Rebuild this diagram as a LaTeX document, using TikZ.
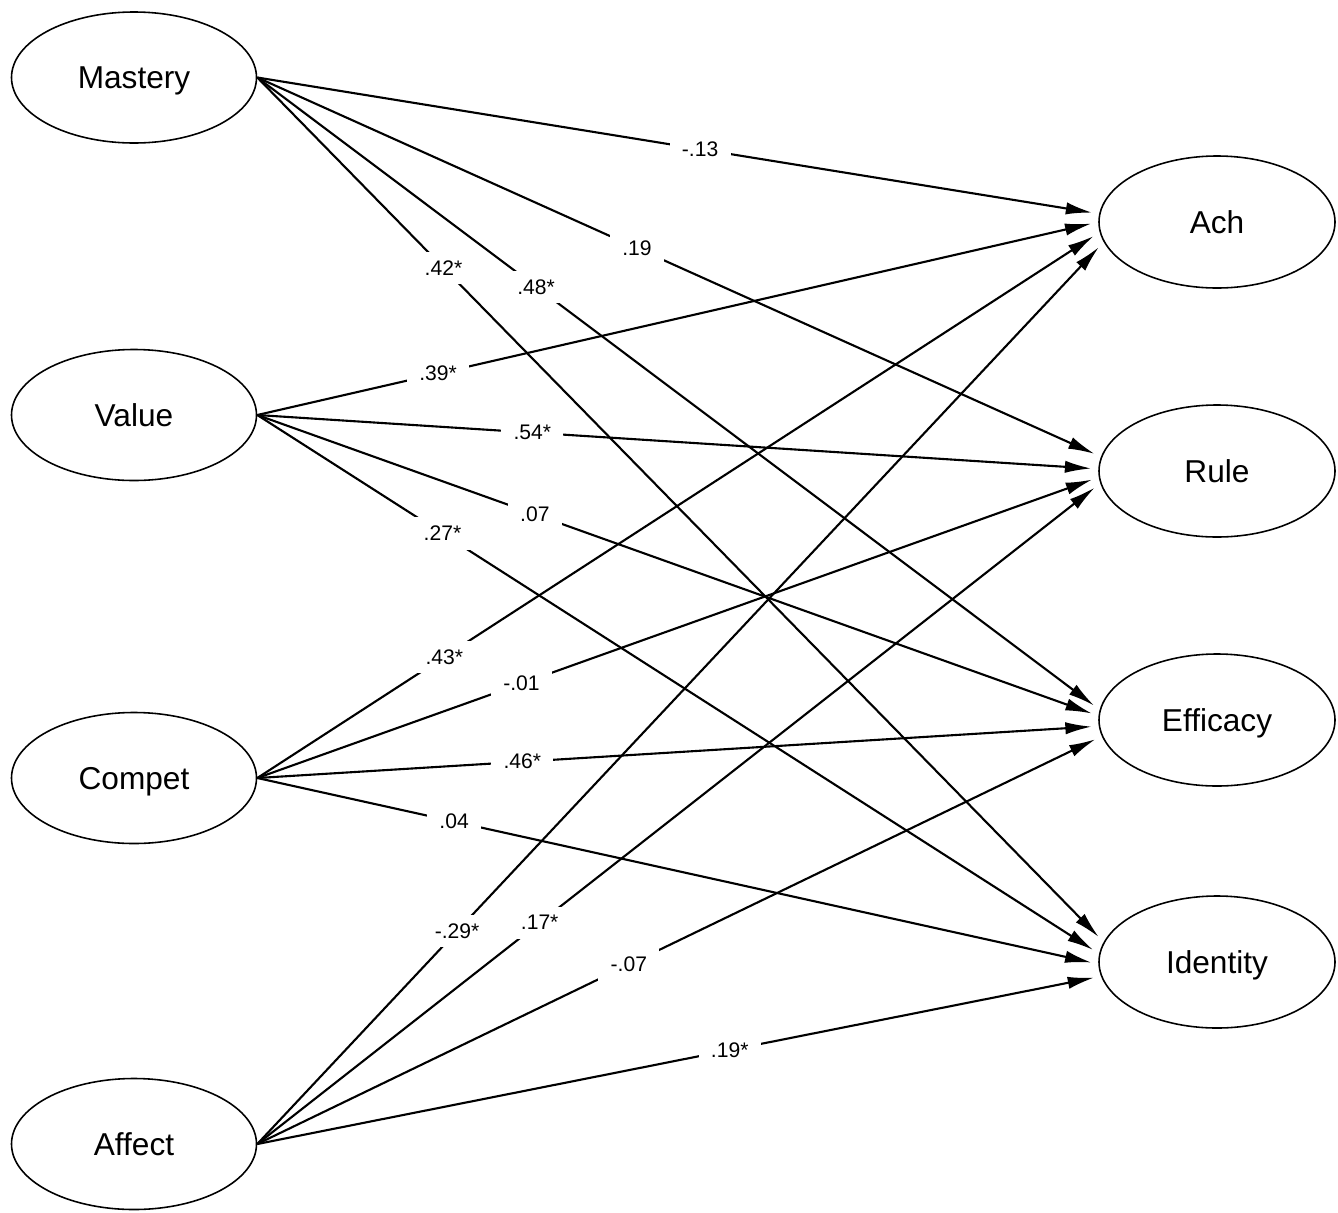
\documentclass[tikz,border=0pt]{standalone}
\usepackage{fontspec}
\setmainfont{Liberation Sans}
\usetikzlibrary{shapes.geometric,arrows.meta}

\begin{document}
\begin{tikzpicture}[
  latent/.style={draw, ellipse, line width=0.9pt, inner sep=0pt,
    text height=12.9pt, text depth=0pt, font=\fontsize{18}{20}\selectfont},
  effect/.style={line width=1.2pt, -{Latex[length=15pt,width=7pt]}, shorten >=4pt},
  wt/.style={fill=white, inner xsep=7pt, inner ysep=5pt,
    font=\fontsize{12}{14}\selectfont}
]
\useasboundingbox (0,0) rectangle (26.76,-24.24);

% predictors on the left, outcomes on the right
\foreach \name/\y in {Mastery/-1.55, Value/-8.30, Compet/-15.56, Affect/-22.88}
  \node[latent, minimum width=4.9cm, minimum height=2.62cm] (\name) at (2.68,\y) {\name};
\foreach \name/\y in {Ach/-4.44, Rule/-9.42, Efficacy/-14.40, Identity/-19.24}
  \node[latent, minimum width=4.72cm, minimum height=2.64cm] (\name) at (24.34,\y) {\name};

%% Mastery
\draw[effect] (Mastery.east) -- node[wt, pos=0.526]{-.13} (Ach.176);
\draw[effect] (Mastery.east) -- node[wt, pos=0.45]{.19} (Rule.173);
\draw[effect] (Mastery.east) -- node[wt, pos=0.331]{.48*} (Efficacy.175.6);
\draw[effect] (Mastery.east) -- node[wt, pos=0.22]{.42*} (Identity.170.8);

%% Value
\draw[effect] (Value.east) -- node[wt, pos=0.215]{.39*} (Ach.180.5);
\draw[effect] (Value.east) -- node[wt, pos=0.327]{.54*} (Rule.179);
\draw[effect] (Value.east) -- node[wt, pos=0.33]{.07} (Efficacy.178.5);
\draw[effect] (Value.east) -- node[wt, pos=0.22]{.27*} (Identity.176.6);

%% Compet
\draw[effect] (Compet.east) -- node[wt, pos=0.222]{.43*} (Ach.185.3);
\draw[effect] (Compet.east) -- node[wt, pos=0.314]{-.01} (Rule.183.4);
\draw[effect] (Compet.east) -- node[wt, pos=0.315]{.46*} (Efficacy.183.4);
\draw[effect] (Compet.east) -- node[wt, pos=0.234]{.04} (Identity.181.5);

%% Affect
\draw[effect] (Affect.east) -- node[wt, pos=0.236]{-.29*} (Ach.190.2);
\draw[effect] (Affect.east) -- node[wt, pos=0.335]{.17*} (Rule.186.8);
\draw[effect] (Affect.east) -- node[wt, pos=0.44]{-.07} (Efficacy.188.2);
\draw[effect] (Affect.east) -- node[wt, pos=0.56]{.19*} (Identity.187.3);

\end{tikzpicture}
\end{document}
